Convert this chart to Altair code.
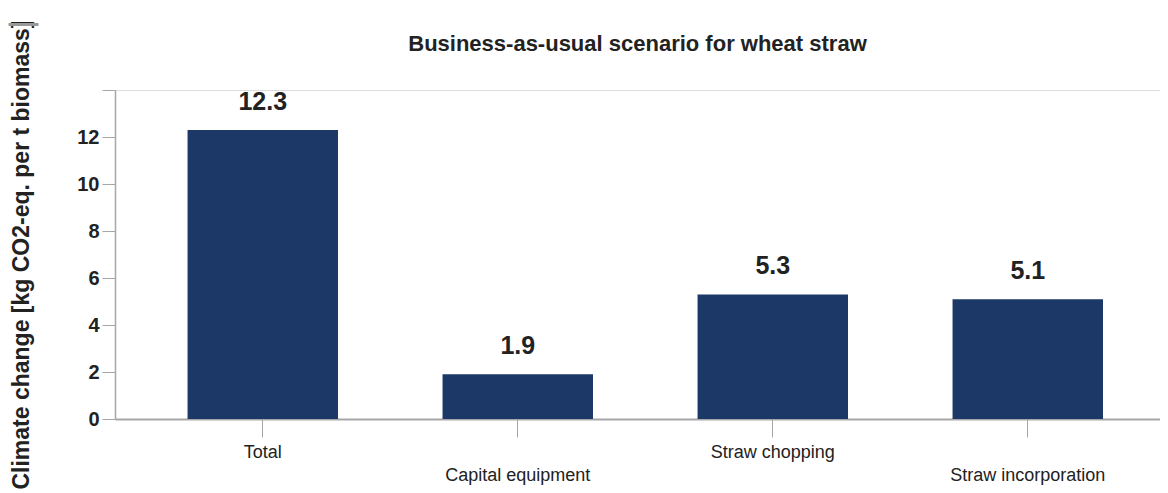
import altair as alt
import pandas as pd

categories = ["Total", "Capital equipment", "Straw chopping", "Straw incorporation"]
values = [12.3, 1.9, 5.3, 5.1]
labels = ["12.3", "1.9", "5.3", "5.1"]
y_ticks = list(range(0, 15))
legend_series = [" "]

df = pd.DataFrame({"category": categories, "value": values, "label": labels})
legend_df = pd.DataFrame({"series": legend_series})

FONT = "Liberation Sans"
BAR = "#1b3866"
GRAY = "#a6a6a6"

x_enc = alt.X(
    "category:N",
    sort=categories,
    title=None,
    scale=alt.Scale(paddingInner=0.41, paddingOuter=0.254, align=0.56),
    axis=alt.Axis(
        labelAngle=0,
        labelFont=FONT,
        labelFontSize=18,
        labelColor="#222222",
        labelExpr="indexof(['Capital equipment','Straw incorporation'], datum.value) >= 0 ? ['', datum.label] : datum.label",
        labelLineHeight=23,
        labelPadding=6,
        tickSize=18,
        tickColor=GRAY,
        domainColor=GRAY,
        domainWidth=2,
    ),
)

y_enc = alt.Y(
    "value:Q",
    title="Climate change [kg CO2-eq. per t biomass]",
    scale=alt.Scale(domain=[0, 14], nice=False),
    axis=alt.Axis(
        values=y_ticks,
        labelExpr="(datum.value % 2 == 0 && datum.value < 14) ? datum.label : ''",
        tickSize={"condition": {"test": "datum.value % 2 == 1", "value": 6}, "value": 13},
        tickColor=GRAY,
        domainColor=GRAY,
        domainWidth=1.5,
        grid=False,
        labelFont=FONT,
        labelFontSize=20,
        labelFontWeight="bold",
        labelColor="#222222",
        labelPadding=3,
        titleFont=FONT,
        titleFontSize=23,
        titleFontWeight="bold",
        titleColor="#222222",
        titlePadding=43,
    ),
)

bars = alt.Chart(df).mark_bar(color=BAR).encode(x=x_enc, y=y_enc)

text = alt.Chart(df).mark_text(
    baseline="bottom", dy=-15, font=FONT, fontSize=25, fontWeight="bold", color="#222222"
).encode(x=alt.X("category:N", sort=categories), y=alt.Y("value:Q"), text="label:N")

legend_layer = alt.Chart(legend_df).mark_line(strokeWidth=3).encode(
    color=alt.Color(
        "series:N",
        scale=alt.Scale(range=["#999999"]),
        legend=alt.Legend(
            title=None,
            orient="none",
            legendX=-108,
            legendY=-82,
            symbolType="stroke",
            symbolSize=900,
            symbolStrokeWidth=3,
            labelFontSize=10,
            labelColor="white",
            padding=0,
            symbolOffset=0,
        ),
    )
)

chart = (
    alt.layer(bars, text, legend_layer)
    .properties(
        width=1045,
        height=329,
        title=alt.TitleParams(
            "Business-as-usual scenario for wheat straw",
            font=FONT,
            fontSize=22,
            fontWeight="bold",
            color="#222222",
            anchor="middle",
            offset=6,
            dy=54,
        ),
        padding={"left": 107, "top": 82, "right": 0, "bottom": 72},
        autosize=alt.AutoSizeParams(type="none"),
    )
    .configure_view(stroke=None)
    .configure(background="white")
)

chart.save("out.html", embed_options={"renderer": "svg", "actions": False})
